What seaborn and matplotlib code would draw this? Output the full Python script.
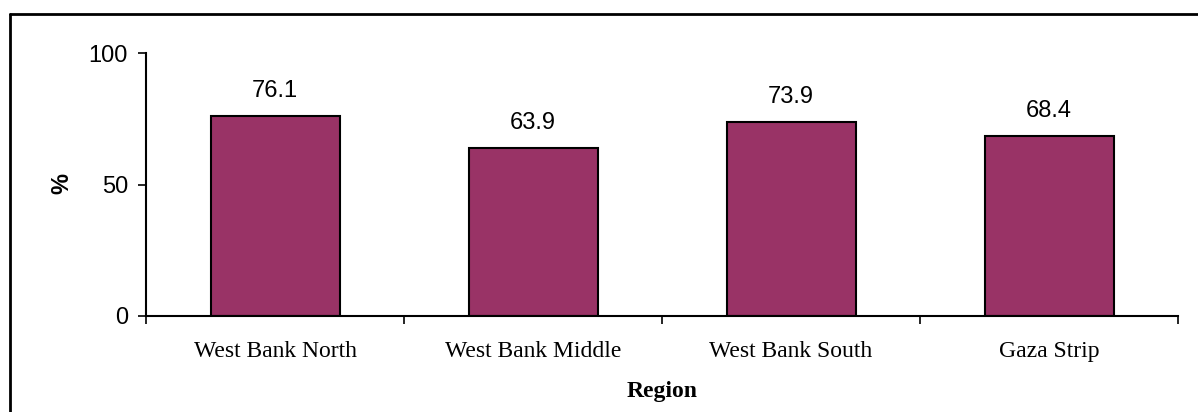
import matplotlib
matplotlib.use("Agg")
import matplotlib.pyplot as plt
import seaborn as sns
import pandas as pd
from matplotlib.lines import Line2D

# data
regions = ["West Bank North", "West Bank Middle", "West Bank South", "Gaza Strip"]
percent = [76.1, 63.9, 73.9, 68.4]

df = pd.DataFrame({"Region": regions, "Percent": percent})

sns.set_style("white")
plt.rcParams["font.family"] = ["Liberation Sans", "DejaVu Sans"]
plt.rcParams["text.color"] = "black"
plt.rcParams["axes.labelcolor"] = "black"
plt.rcParams["xtick.color"] = "black"
plt.rcParams["ytick.color"] = "black"

fig = plt.figure(figsize=(11.98, 4.12), dpi=100)
ax = fig.add_axes([146 / 1198, 1 - 316 / 412, 1032 / 1198, 263 / 412])

sns.barplot(data=df, x="Region", y="Percent", color="#993366", saturation=1,
            width=0.5, edgecolor="black", linewidth=1.5, ax=ax)

# value labels above bars
for i, v in enumerate(percent):
    ax.annotate(f"{v}", (i, v), xytext=(0, 13.5), textcoords="offset points",
                ha="center", va="baseline", fontsize=17)

ax.set_ylim(0, 100)
ax.set_xlim(-0.5, len(regions) - 0.5)
ax.set_yticks([0, 50, 100])
ax.tick_params(axis="y", labelsize=17, direction="out", length=6, width=1.2, pad=7, left=True)

# x ticks sit between categories like in Excel charts
ax.set_xticks([-0.5 + k for k in range(len(regions) + 1)], minor=True)
ax.tick_params(axis="x", which="minor", direction="out", length=6, width=1.2, bottom=True)
ax.tick_params(axis="x", which="major", length=0, pad=18)
ax.set_xticks(range(len(regions)))
ax.set_xticklabels(regions, family="Liberation Serif", fontsize=17)

for s in ["top", "right"]:
    ax.spines[s].set_visible(False)
for s in ["left", "bottom"]:
    ax.spines[s].set_color("black")
    ax.spines[s].set_linewidth(1.5)

ax.set_xlabel("Region", family="Liberation Serif", fontweight="bold", fontsize=17)
ax.xaxis.label.set_va("center")
ax.xaxis.set_label_coords(0.5, (316 - 391) / 263)
ax.set_ylabel("%", fontweight="bold", fontsize=17)
ax.yaxis.label.set_va("center")
ax.yaxis.set_label_coords((62 - 146) / 1032, (316 - 183) / 263)

# chart frame: only left and top edges show in the reference
fig.add_artist(Line2D([10 / 1198, 10 / 1198], [0, 1 - 13.5 / 412], transform=fig.transFigure,
                      color="black", linewidth=2))
fig.add_artist(Line2D([10 / 1198, 1], [1 - 13.5 / 412, 1 - 13.5 / 412], transform=fig.transFigure,
                      color="black", linewidth=2))

fig.savefig("out.png", dpi=100)
